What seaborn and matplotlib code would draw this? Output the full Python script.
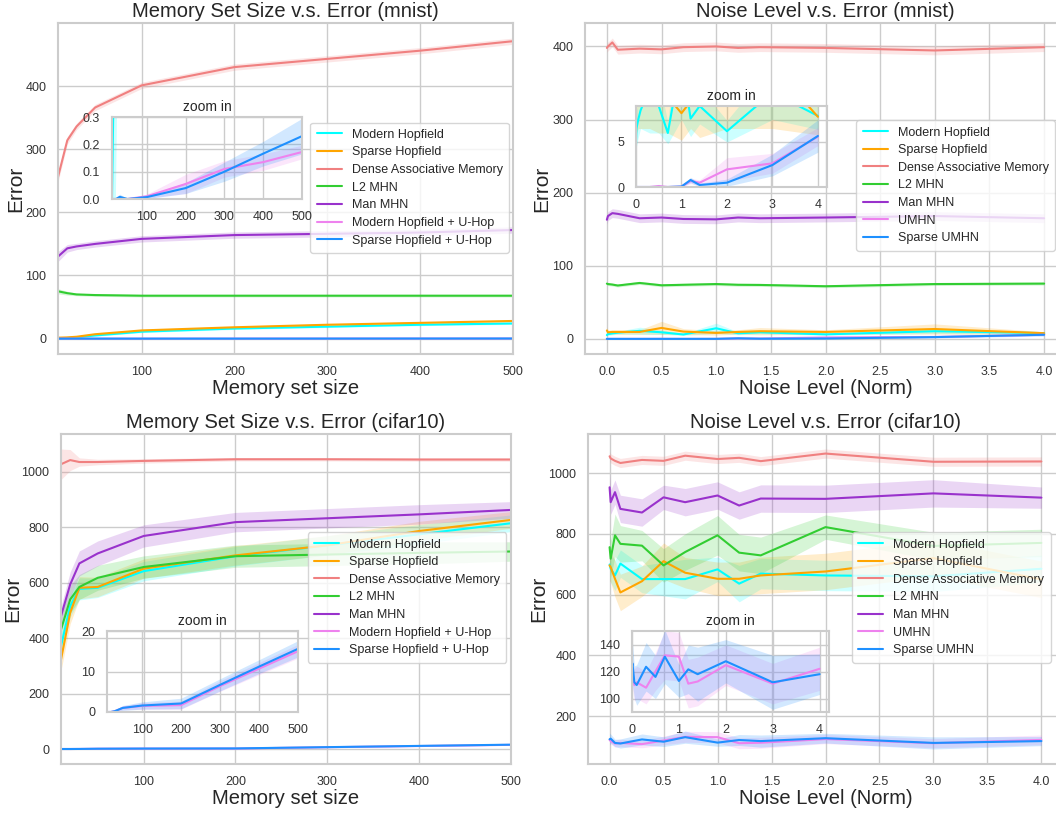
import numpy as np
import pandas as pd
import matplotlib
matplotlib.use("Agg")
import matplotlib.pyplot as plt
import seaborn as sns

# ---------------- data ----------------
mem_sizes = [10, 20, 30, 50, 100, 200, 300, 400, 500]
noise_levels = [0.0, 0.01, 0.05, 0.1, 0.3, 0.5, 0.7, 1.0, 1.2, 1.4, 2.0, 3.0, 4.0]

names_mem = ["Modern Hopfield", "Sparse Hopfield", "Dense Associative Memory", "L2 MHN",
             "Man MHN", "Modern Hopfield + U-Hop", "Sparse Hopfield + U-Hop"]
names_noise = ["Modern Hopfield", "Sparse Hopfield", "Dense Associative Memory", "L2 MHN",
               "Man MHN", "UMHN", "Sparse UMHN"]
colors = ["cyan", "orange", "lightcoral", "limegreen", "darkorchid", "violet", "dodgerblue"]

# mnist, memory set size
mm_mh = [0, 1, 2, 5, 11, 16, 19, 22, 24]
mm_sh = [1.5, 2, 3, 7, 13, 18, 22, 25, 28]
mm_dam = [256, 314, 336, 366, 401, 430, 443, 456, 471]
mm_l2 = [75, 72, 70, 69, 68, 68, 68, 68, 68]
mm_man = [130, 143, 146, 150, 158, 164, 166, 168, 172]
mm_umhn = [0, 0, 0, 0, 0.01, 0.055, 0.11, 0.135, 0.172]
mm_sumhn = [0, 0, 0.008, 0, 0.007, 0.04, 0.10, 0.166, 0.23]
mm_mh_e = [0.5, 1, 1, 1.5, 1.5, 1.5, 1.5, 1.5, 1.5]
mm_sh_e = [0.5, 1, 1, 1.5, 1.5, 1.5, 1.5, 1.5, 1.5]
mm_dam_e = [8, 6, 5, 5, 5, 5, 5, 5, 5]
mm_l2_e = [4, 3, 2, 2, 2, 2, 2, 2, 2]
mm_man_e = [8, 6, 5, 5, 5, 5, 5, 5, 5]
mm_umhn_e = [0, 0, 0.002, 0, 0.008, 0.035, 0.03, 0.03, 0.025]
mm_sumhn_e = [0, 0, 0.01, 0, 0.005, 0.02, 0.035, 0.045, 0.065]

# mnist, noise level
mn_mh = [5.2, 6.5, 7.5, 8.5, 11, 9, 6.0, 14.5, 7.6, 9, 6.2, 10.5, 7.9]
mn_sh = [11.5, 9, 9.5, 9.5, 9.5, 15, 10, 8.2, 9.5, 10.5, 9.5, 13.5, 7.8]
mn_dam = [398, 400, 405.5, 395.5, 397, 396, 399, 400, 398, 399, 398, 394.5, 399]
mn_l2 = [75.6, 75, 74.3, 73, 76.5, 73.3, 74, 75, 74, 73.8, 72, 75, 75.6]
mn_man = [163, 168, 172, 171, 165, 166, 164, 163.5, 166, 165, 166, 168, 165]
mn_umhn = [0, 0, 0, 0, 0, 0.1, 0, 0.05, 0.67, 0.48, 1.96, 2.63, 5.6]
mn_sumhn = [0, 0, 0, 0, 0, 0, 0, 0.05, 0.78, 0.22, 0.48, 2.44, 5.67]
mn_mh_e = [2, 2, 2, 2, 5, 3, 1.2, 7, 2, 2, 1.2, 3, 1.5]
mn_sh_e = [5, 3, 3, 3, 3, 9, 4, 3, 3, 5, 3, 7, 2]
mn_dam_e = [6] * 13
mn_l2_e = [2] * 13
mn_man_e = [6] * 13
mn_umhn_e = [0, 0, 0.05, 0, 0, 0.2, 0, 0.05, 0.3, 0.3, 1.3, 1.1, 1.0]
mn_sumhn_e = [0, 0, 0, 0, 0, 0, 0, 0.05, 0.3, 0.2, 0.4, 1.2, 1.8]

# cifar10, memory set size
cm_mh = [371, 516, 578, 582, 642, 696, 735, 775, 815]
cm_sh = [323, 492, 582, 585, 651, 699, 735, 787, 827]
cm_dam = [1028, 1043, 1036, 1036, 1040, 1046, 1046, 1045, 1045]
cm_l2 = [431, 540, 585, 618, 657, 696, 702, 708, 713]
cm_man = [480, 594, 670, 706, 769, 819, 833, 847, 863]
cm_umhn = [0, 0, 0.2, 1.0, 1.5, 1.7, 6.4, 10.7, 15.0]
cm_sumhn = [0, 0, 0.2, 1.0, 1.6, 2.1, 6.7, 11.2, 15.6]
cm_mh_e = [40, 40, 40, 35, 35, 35, 35, 35, 30]
cm_sh_e = [40, 40, 40, 35, 35, 35, 35, 35, 30]
cm_dam_e = [55, 38, 15, 10, 8, 6, 6, 6, 6]
cm_l2_e = [50, 50, 45, 45, 40, 40, 40, 40, 35]
cm_man_e = [35, 45, 45, 45, 40, 35, 35, 35, 30]
cm_umhn_e = [0, 0, 0.2, 0.5, 0.8, 1.0, 1.3, 1.5, 1.7]
cm_sumhn_e = [0, 0, 0.2, 0.6, 0.9, 1.3, 1.5, 1.7, 2.0]

# cifar10, noise level
cn_mh = [699, 685, 663, 702, 651, 651, 651, 683, 636, 669, 663, 660, 685]
cn_sh = [696, 690, 652, 607, 644, 710, 672, 652, 652, 663, 676, 720, 650]
cn_dam = [1055, 1048, 1040, 1033, 1043, 1040, 1057, 1046, 1050, 1039, 1064, 1037, 1038]
cn_l2 = [756, 718, 795, 767, 761, 696, 740, 795, 738, 729, 822, 760, 770]
cn_man = [953, 904, 937, 882, 870, 920, 904, 926, 893, 916, 915, 933, 919]
cn_umhn = [122, 118, 110, 112, 108, 120, 132, 131, 111, 112.6, 124.7, 111, 122]
cn_sumhn = [124, 126, 112, 110, 123.5, 116, 131, 113, 121.6, 118, 127.6, 112, 118]
cn_mh_e = [45, 45, 50, 45, 45, 55, 65, 40, 60, 50, 50, 50, 45]
cn_sh_e = [50, 50, 60, 60, 50, 60, 50, 55, 55, 60, 60, 60, 60]
cn_dam_e = [15] * 13
cn_l2_e = [60, 60, 70, 60, 50, 55, 60, 65, 60, 60, 40, 45, 45]
cn_man_e = [45, 40, 40, 45, 45, 40, 45, 45, 45, 45, 45, 45, 35]
cn_umhn_e = [12, 10, 12, 12, 12, 14, 18, 18, 18, 18, 15, 15, 16]
cn_sumhn_e = [20, 15, 12, 15, 18, 16, 20, 12, 18, 20, 16, 20, 15]

panels = [
    dict(title="Memory Set Size v.s. Error (mnist)", xlabel="Memory set size", x=mem_sizes,
         names=names_mem,
         ys=[mm_mh, mm_sh, mm_dam, mm_l2, mm_man, mm_umhn, mm_sumhn],
         es=[mm_mh_e, mm_sh_e, mm_dam_e, mm_l2_e, mm_man_e, mm_umhn_e, mm_sumhn_e],
         pos=[58, 23, 513, 354], inset=[112, 117, 302, 199],
         xlim=(10, 500), ixlim=(10, 500), iylim=(0, 0.3),
         xticks=[100, 200, 300, 400, 500], yticks=[0, 100, 200, 300, 400],
         ixticks=[100, 200, 300, 400, 500], iyticks=[0.0, 0.1, 0.2, 0.3], iyfmt="%.1f",
         leg=(0.541, 0.718), ylab_x=-0.072),
    dict(title="Noise Level v.s. Error (mnist)", xlabel="Noise Level (Norm)", x=noise_levels,
         names=names_noise,
         ys=[mn_mh, mn_sh, mn_dam, mn_l2, mn_man, mn_umhn, mn_sumhn],
         es=[mn_mh_e, mn_sh_e, mn_dam_e, mn_l2_e, mn_man_e, mn_umhn_e, mn_sumhn_e],
         pos=[585, 23, 1066, 354], inset=[636, 106, 827, 187],
         xlim=(-0.2, 4.2), ixlim=(0, 4.2), iylim=(0, 9),
         xticks=[0, 0.5, 1, 1.5, 2, 2.5, 3, 3.5, 4], yticks=[0, 100, 200, 300, 400],
         ixticks=[0, 1, 2, 3, 4], iyticks=[0, 5], iyfmt="%d",
         leg=(0.551, 0.725), ylab_x=-0.071),
    dict(title="Memory Set Size v.s. Error (cifar10)", xlabel="Memory set size", x=mem_sizes,
         names=names_mem,
         ys=[cm_mh, cm_sh, cm_dam, cm_l2, cm_man, cm_umhn, cm_sumhn],
         es=[cm_mh_e, cm_sh_e, cm_dam_e, cm_l2_e, cm_man_e, cm_umhn_e, cm_sumhn_e],
         pos=[61, 434, 511, 764], inset=[107, 631, 298, 712],
         xlim=(10, 500), ixlim=(10, 500), iylim=(0, 20),
         xticks=[100, 200, 300, 400, 500], yticks=[0, 200, 400, 600, 800, 1000],
         ixticks=[100, 200, 300, 400, 500], iyticks=[0, 10, 20], iyfmt="%d",
         leg=(0.534, 0.721), ylab_x=-0.086),
    dict(title="Noise Level v.s. Error (cifar10)", xlabel="Noise Level (Norm)", x=noise_levels,
         names=names_noise,
         ys=[cn_mh, cn_sh, cn_dam, cn_l2, cn_man, cn_umhn, cn_sumhn],
         es=[cn_mh_e, cn_sh_e, cn_dam_e, cn_l2_e, cn_man_e, cn_umhn_e, cn_sumhn_e],
         pos=[588, 434, 1063, 764], inset=[632, 631, 829, 712],
         xlim=(-0.2, 4.2), ixlim=(0, 4.2), iylim=(90, 150),
         xticks=[0, 0.5, 1, 1.5, 2, 2.5, 3, 3.5, 4], yticks=[200, 400, 600, 800, 1000],
         ixticks=[0, 1, 2, 3, 4], iyticks=[100, 120, 140], iyfmt="%d",
         leg=(0.543, 0.721), ylab_x=-0.083),
]

# ---------------- style ----------------
sns.set_theme(style="whitegrid")
plt.rcParams["font.family"] = ["Liberation Sans", "DejaVu Sans"]
plt.rcParams["axes.edgecolor"] = "#cccccc"
plt.rcParams["grid.color"] = "#cccccc"

W, H = 1056, 814
fig = plt.figure(figsize=(W / 100, H / 100), dpi=100)


def rect(p):
    x0, y0, x1, y1 = p
    return [x0 / W, (H - y1) / H, (x1 - x0) / W, (y1 - y0) / H]


def draw_series(ax, x, names, ys, es, legend):
    for name, col, y, e in zip(names, colors, ys, es):
        df = pd.DataFrame({"x": x, "y": y})
        sns.lineplot(data=df, x="x", y="y", color=col, linewidth=1.5, ax=ax,
                     label=name if legend else None, legend=False)
        lo = np.array(y) - np.array(e)
        hi = np.array(y) + np.array(e)
        ax.fill_between(x, lo, hi, color=col, alpha=0.2, linewidth=0)


for p in panels:
    ax = fig.add_axes(rect(p["pos"]))
    draw_series(ax, p["x"], p["names"], p["ys"], p["es"], True)
    ax.set_xlim(*p["xlim"])
    ax.set_xticks(p["xticks"])
    if p["xlim"][0] < 0:
        ax.set_xticklabels(["%.1f" % t for t in p["xticks"]])
    ax.set_yticks(p["yticks"])
    ax.tick_params(labelsize=9, pad=2.5, colors="#333333")
    ax.set_title(p["title"], fontsize=14.5, pad=4)
    ax.set_xlabel(p["xlabel"], fontsize=14.5, labelpad=1)
    ax.set_ylabel("Error", fontsize=15)
    ax.yaxis.set_label_coords(p["ylab_x"], 0.5)
    for s in ax.spines.values():
        s.set_color("#cccccc")
        s.set_linewidth(1.5)
    ax.legend(loc="upper left", bbox_to_anchor=p["leg"], fontsize=9, labelspacing=0.45,
              borderpad=0.5, handlelength=2.0, frameon=True, framealpha=0.8,
              edgecolor="#cccccc")

    ia = fig.add_axes(rect(p["inset"]))
    ia.set_facecolor("none")
    draw_series(ia, p["x"], p["names"], p["ys"], p["es"], False)
    ia.set_xlim(*p["ixlim"])
    ia.set_ylim(*p["iylim"])
    ia.set_xticks(p["ixticks"])
    ia.set_yticks(p["iyticks"])
    ia.set_yticklabels([p["iyfmt"] % t for t in p["iyticks"]])
    ia.set_xlabel("")
    ia.set_ylabel("")
    ia.tick_params(labelsize=9, pad=2.5, colors="#333333")
    ia.set_title("zoom in", fontsize=10, pad=4)
    for s in ia.spines.values():
        s.set_color("#cccccc")
        s.set_linewidth(1.5)

fig.savefig("out.png", dpi=100)
